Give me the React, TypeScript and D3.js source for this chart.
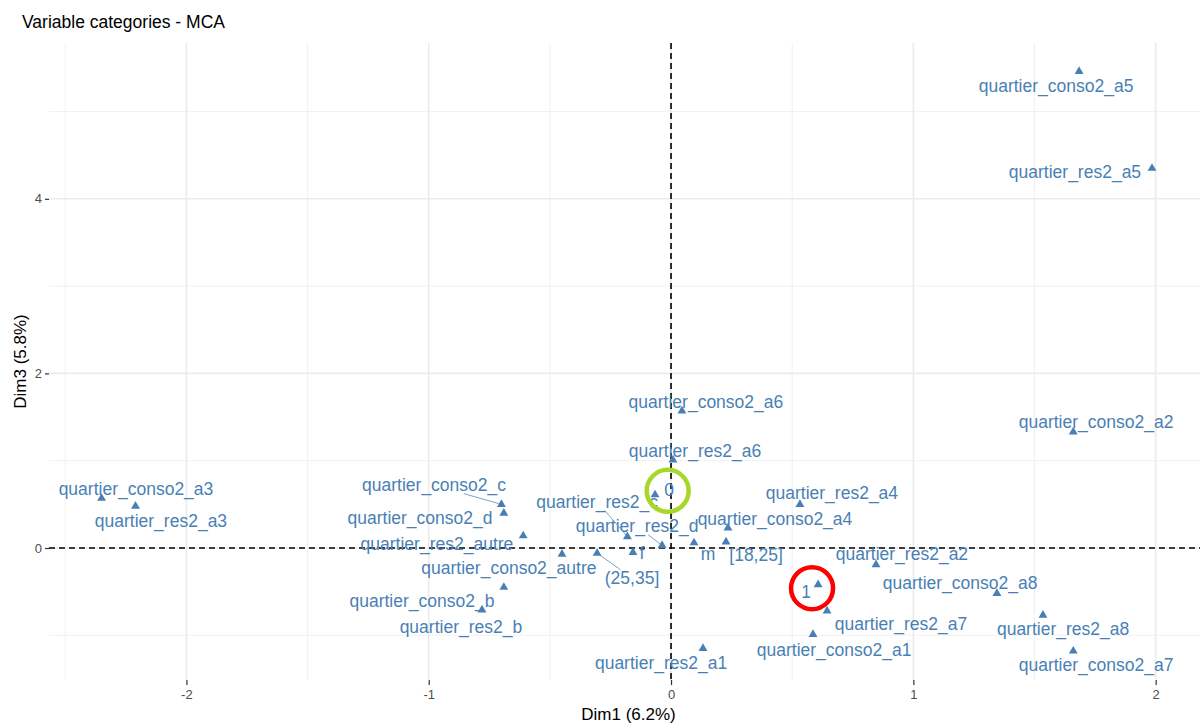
import React, { useRef, useEffect } from 'react';
import * as d3 from 'd3';

// Category names as printed on the chart
const categories = [
  'quartier_conso2_a5', 'quartier_res2_a5', 'quartier_conso2_a2', 'quartier_conso2_a6',
  'quartier_res2_a6', '0', 'quartier_res2_a4', 'quartier_conso2_a4', '[18,25]', 'm',
  'quartier_res2_d', 'f', 'quartier_res2_c', '(25,35]', 'quartier_conso2_autre',
  'quartier_res2_autre', 'quartier_conso2_c', 'quartier_conso2_d', 'quartier_conso2_b',
  'quartier_res2_b', 'quartier_res2_a1', 'quartier_conso2_a3', 'quartier_res2_a3', '1',
  'quartier_res2_a7', 'quartier_conso2_a1', 'quartier_res2_a2', 'quartier_conso2_a8',
  'quartier_res2_a8', 'quartier_conso2_a7'
];

// Coordinates of the categories
const dim1 = [
  1.684, 1.985, 1.66, 0.045, 0.008, -0.066, 0.532, 0.235, 0.227, 0.095,
  -0.037, -0.157, -0.18, -0.305, -0.45, -0.61, -0.70, -0.69, -0.69, -0.78,
  0.132, -2.35, -2.21, 0.607, 0.644, 0.586, 0.846, 1.345, 1.535, 1.66
];
const dim3 = [
  5.46, 4.35, 1.33, 1.57, 1.01, 0.61, 0.50, 0.23, 0.07, 0.06,
  0.03, -0.05, 0.13, -0.06, -0.07, 0.14, 0.50, 0.40, -0.45, -0.71,
  -1.15, 0.57, 0.48, -0.42, -0.72, -0.99, -0.19, -0.52, -0.77, -1.18
];

// Repelled label positions (data units)
const labelDim1 = [
  1.589, 1.667, 1.754, 0.144, 0.099, -0.008, 0.664, 0.429, 0.351, 0.153,
  -0.14, -0.12, -0.305, -0.161, -0.669, -0.966, -0.978, -1.036, -1.028, -0.867,
  -0.041, -2.208, -2.105, 0.557, 0.949, 0.673, 0.953, 1.193, 1.618, 1.754
];
const labelDim3 = [
  5.29, 4.31, 1.44, 1.67, 1.11, 0.66, 0.63, 0.33, -0.08, -0.07,
  0.25, -0.06, 0.53, -0.34, -0.23, 0.05, 0.72, 0.34, -0.61, -0.90,
  -1.32, 0.68, 0.31, -0.50, -0.87, -1.17, -0.07, -0.40, -0.93, -1.34
];

// Labels joined to their point by a segment
const withSegment = ['quartier_conso2_c', 'quartier_res2_c', 'quartier_res2_d', '(25,35]'];

// Highlighted categories
const greenRing = '0';
const redRing = '1';

const xTicks = [-2, -1, 0, 1, 2];
const yTicks = [0, 2, 4];
const xMinor = [-2.5, -1.5, -0.5, 0.5, 1.5];
const yMinor = [-1, 1, 3, 5];

const App: React.FC = () => {
  const svgRef = useRef<SVGSVGElement>(null);
  const width = 1203;
  const height = 724;

  useEffect(() => {
    const svg = d3.select(svgRef.current);
    svg.selectAll('*').remove();

    const margin = { top: 43, right: 3, bottom: 44, left: 49 };
    const font = '"Liberation Sans", Arial, Helvetica, sans-serif';
    const blue = '#4a7fb5';

    const x = d3.scaleLinear().domain([-2.567, 2.183]).range([margin.left, width - margin.right]);
    const y = d3.scaleLinear().domain([-1.512, 5.785]).range([height - margin.bottom, margin.top]);

    const [x0, x1] = x.range();
    const [y1, y0] = y.range();

    // Grid
    const grid = svg.append('g');
    grid.selectAll('.vmin').data(xMinor).enter().append('line')
      .attr('x1', d => x(d)).attr('x2', d => x(d)).attr('y1', y0).attr('y2', y1)
      .attr('stroke', '#ededed').attr('stroke-width', 0.8);
    grid.selectAll('.hmin').data(yMinor).enter().append('line')
      .attr('y1', d => y(d)).attr('y2', d => y(d)).attr('x1', x0).attr('x2', x1)
      .attr('stroke', '#ededed').attr('stroke-width', 0.8);
    grid.selectAll('.vmaj').data(xTicks).enter().append('line')
      .attr('x1', d => x(d)).attr('x2', d => x(d)).attr('y1', y0).attr('y2', y1)
      .attr('stroke', '#ebebeb').attr('stroke-width', 1.6);
    grid.selectAll('.hmaj').data(yTicks).enter().append('line')
      .attr('y1', d => y(d)).attr('y2', d => y(d)).attr('x1', x0).attr('x2', x1)
      .attr('stroke', '#ebebeb').attr('stroke-width', 1.6);

    // Axes (plain hyphen for negatives, like R)
    const fmt = (d: d3.NumberValue) => String(d);
    const xAxis = svg.append('g')
      .attr('transform', `translate(0,${y1})`)
      .call(d3.axisBottom(x).tickValues(xTicks).tickSize(5).tickPadding(5).tickFormat(fmt));
    const yAxis = svg.append('g')
      .attr('transform', `translate(${x0},0)`)
      .call(d3.axisLeft(y).tickValues(yTicks).tickSize(4).tickPadding(3).tickFormat(fmt));
    [xAxis, yAxis].forEach(a => {
      a.select('.domain').remove();
      a.selectAll('line').attr('stroke', '#333').attr('stroke-width', 1.2);
      a.selectAll('text').attr('fill', '#4d4d4d').style('font-family', font).style('font-size', '13px');
    });

    // Reference dashed lines
    svg.append('line')
      .attr('x1', x(0)).attr('x2', x(0)).attr('y1', y0).attr('y2', y1)
      .attr('stroke', '#000').attr('stroke-width', 1.6).attr('stroke-dasharray', '6,4');
    svg.append('line')
      .attr('x1', x0).attr('x2', x1).attr('y1', y(0)).attr('y2', y(0))
      .attr('stroke', '#000').attr('stroke-width', 1.6).attr('stroke-dasharray', '6,4');

    const data = categories.map((name, i) => ({
      name, px: dim1[i], py: dim3[i], lx: labelDim1[i], ly: labelDim3[i]
    }));

    // Labels
    const labels = svg.append('g');
    const texts = labels.selectAll('text').data(data).enter().append('text')
      .attr('x', d => x(d.lx))
      .attr('y', d => y(d.ly))
      .attr('text-anchor', 'middle')
      .attr('dominant-baseline', 'central')
      .attr('fill', blue)
      .style('font-family', font)
      .style('font-size', '17.5px')
      .text(d => d.name);

    // Segments from label box edge to point
    const segs = svg.append('g');
    texts.each(function (d) {
      if (!withSegment.includes(d.name)) return;
      const bb = (this as SVGTextElement).getBBox();
      const cx = x(d.lx), cy = y(d.ly);
      const tx = x(d.px), ty = y(d.py);
      const dx = tx - cx, dy = ty - cy;
      const hw = bb.width / 2 + 1, hh = bb.height / 2 - 2;
      const t = Math.min(Math.abs(hw / (dx || 1e-9)), Math.abs(hh / (dy || 1e-9)));
      segs.append('line')
        .attr('x1', cx + dx * t).attr('y1', cy + dy * t)
        .attr('x2', tx - dx * 0.04).attr('y2', ty - dy * 0.04)
        .attr('stroke', '#7fa3c8').attr('stroke-width', 1);
    });

    // Points
    const tri = d3.symbol().type(d3.symbolTriangle).size(34);
    svg.append('g').selectAll('path').data(data).enter().append('path')
      .attr('transform', d => `translate(${x(d.px)},${y(d.py)})`)
      .attr('d', tri)
      .attr('fill', blue);

    // Highlight rings, placed between label (w) and point (1 - w)
    const ring = (name: string, color: string, w: number) => {
      const d = data.find(e => e.name === name);
      if (!d) return;
      svg.append('circle')
        .attr('cx', w * x(d.lx) + (1 - w) * x(d.px))
        .attr('cy', w * y(d.ly) + (1 - w) * y(d.py))
        .attr('r', 21)
        .attr('fill', 'none')
        .attr('stroke', color)
        .attr('stroke-width', 4.5);
    };
    ring(greenRing, '#a9d62b', 0.9);
    ring(redRing, '#ff0000', 0.5);

    // Titles
    svg.append('text')
      .attr('x', 22).attr('y', 28)
      .style('font-family', font).style('font-size', '17.5px')
      .attr('fill', '#000')
      .text('Variable categories - MCA');
    svg.append('text')
      .attr('x', (x0 + x1) / 2 + 4).attr('y', height - 4)
      .attr('text-anchor', 'middle')
      .style('font-family', font).style('font-size', '17px')
      .attr('fill', '#000')
      .text('Dim1 (6.2%)');
    svg.append('text')
      .attr('transform', `translate(20,${(y0 + y1) / 2}) rotate(-90)`)
      .attr('text-anchor', 'middle')
      .attr('dominant-baseline', 'central')
      .style('font-family', font).style('font-size', '17px')
      .attr('fill', '#000')
      .text('Dim3 (5.8%)');
  }, []);

  return (
    <svg
      ref={svgRef}
      width={width}
      height={height}
      style={{ position: 'absolute', left: 0, top: 0, background: '#fff' }}
    />
  );
};

export default App;
